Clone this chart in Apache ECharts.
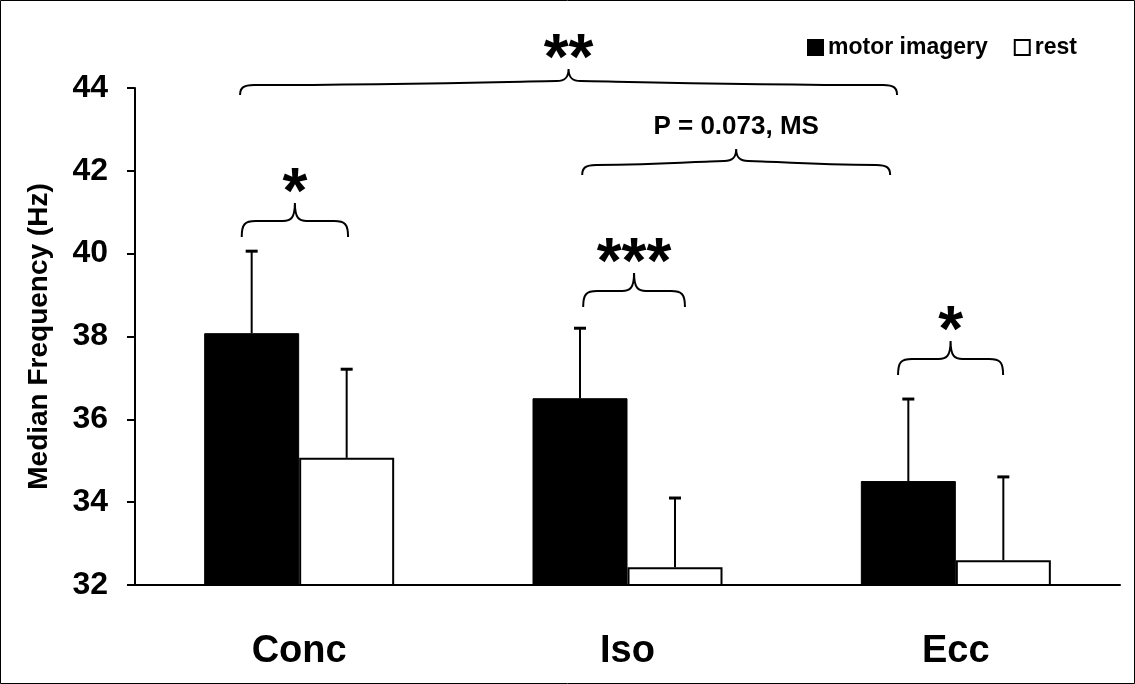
<!DOCTYPE html>
<html>
<head>
<meta charset="utf-8">
<script src="https://cdn.jsdelivr.net/npm/echarts@6/dist/echarts.min.js"></script>
<style>
  html, body { margin: 0; padding: 0; background: #fff; }
  #chart { width: 1135px; height: 684px; }
</style>
</head>
<body>
<div id="chart"></div>
<script>
var categories = ['Conc', 'Iso', 'Ecc'];
var motorMean = [38.08, 36.51, 34.51];
var motorSD = [1.98, 1.69, 1.98];
var restMean = [35.07, 32.43, 32.6];
var restSD = [2.14, 1.67, 2.01];

// significance braces: [from, to, bottom of the brace ends]
// x is in category units (Conc spans 0..1, Iso 1..2, Ecc 2..3)
var braceSpans = [
  [0.325, 0.649, 40.40],
  [1.365, 1.675, 38.71],
  [2.324, 2.644, 37.07],
  [1.362, 2.300, 41.90],
  [0.320, 2.321, 43.83]
];
var braceLabels = ['*', '***', '*', 'P = 0.073, MS', '**'];

var FONT = '"Liberation Sans", Arial, sans-serif';
var BAR_W = 95;

var chart = echarts.init(document.getElementById('chart'));

function errorRender(side) {
  return function (params, api) {
    var cat = api.value(0);
    var mean = api.value(1);
    var sd = api.value(2);
    var base = api.coord([cat, mean]);
    var top = api.coord([cat, mean + sd]);
    var x = base[0] + side * BAR_W / 2;
    return {
      type: 'group',
      children: [
        { type: 'line', shape: { x1: x, y1: base[1], x2: x, y2: top[1] },
          style: { stroke: '#000', lineWidth: 2 } },
        { type: 'line', shape: { x1: x - 6, y1: top[1], x2: x + 6, y2: top[1] },
          style: { stroke: '#000', lineWidth: 3 } }
      ]
    };
  };
}

function braceRender(params, api) {
  var a = api.coord([api.value(0), api.value(2)]);
  var b = api.coord([api.value(1), api.value(2)]);
  var x0 = a[0], x1 = b[0], yb = a[1];
  var cx = (x0 + x1) / 2;
  var wide = (x1 - x0) > 200;
  var drop = wide ? 10 : 16;   // end hook height
  var sag = wide ? 4 : 0;      // flat part rises a little toward the tip on wide braces
  var rise = wide ? 12 : 18;   // tip height above the flat part
  var yf = yb - drop;
  var yc = yf - sag;
  var yt = yc - rise;
  var d = [
    'M', x0, yb,
    'C', x0, yf + 3, x0 + 3, yf, x0 + 14, yf,
    'C', x0 + (cx - x0) * 0.5, yf, cx - 30, yc, cx - 12, yc,
    'C', cx - 4, yc, cx, yc - 3, cx, yt,
    'C', cx, yc - 3, cx + 4, yc, cx + 12, yc,
    'C', cx + 30, yc, x1 - (x1 - cx) * 0.5, yf, x1 - 14, yf,
    'C', x1 - 3, yf, x1, yf + 3, x1, yb
  ].join(' ');
  var label = braceLabels[params.dataIndex];
  var star = label.charAt(0) === '*';
  return {
    type: 'group',
    children: [
      { type: 'path', shape: { pathData: d },
        style: { fill: 'none', stroke: '#000', lineWidth: 2 } },
      { type: 'text', x: cx, y: star ? yt - 8 : yt - 22,
        style: {
          text: label,
          fill: '#000',
          font: star ? 'bold 64px ' + FONT : 'bold 26px ' + FONT,
          align: 'center',
          verticalAlign: 'middle'
        } }
    ]
  };
}

var option = {
  animation: false,
  backgroundColor: '#fff',
  graphic: [{
    type: 'rect',
    shape: { x: 0.5, y: 0.5, width: 1134, height: 683 },
    style: { fill: 'none', stroke: '#000', lineWidth: 1 },
    silent: true
  }],
  legend: {
    data: ['motor imagery', 'rest'],
    left: 802,
    top: 31,
    icon: 'rect',
    itemWidth: 15,
    itemHeight: 15,
    itemGap: 26,
    textStyle: { fontFamily: FONT, fontWeight: 'bold', fontSize: 23, color: '#000' }
  },
  grid: { left: 135, right: 15, top: 88, bottom: 99 },
  xAxis: [{
    type: 'category',
    data: categories,
    axisLine: { onZero: false, lineStyle: { color: '#000', width: 2 } },
    axisTick: { length: 12, lineStyle: { color: '#000', width: 2 } },
    axisLabel: { margin: 48, color: '#000', fontFamily: FONT, fontWeight: 'bold', fontSize: 38 }
  }, {
    type: 'value',
    min: 0,
    max: 3,
    show: false
  }],
  yAxis: {
    type: 'value',
    min: 32,
    max: 44,
    interval: 2,
    name: 'Median Frequency (Hz)',
    nameLocation: 'middle',
    nameGap: 82,
    nameTextStyle: { color: '#000', fontFamily: FONT, fontWeight: 'bold', fontSize: 28 },
    axisLine: { show: true, lineStyle: { color: '#000', width: 2 } },
    axisTick: { show: true, length: 8, lineStyle: { color: '#000', width: 2 } },
    axisLabel: { margin: 27, color: '#000', fontFamily: FONT, fontWeight: 'bold', fontSize: 32 },
    splitLine: { show: false }
  },
  series: [
    {
      name: 'motor imagery',
      type: 'bar',
      data: motorMean,
      barWidth: BAR_W,
      barGap: '0%',
      itemStyle: { color: '#000', borderColor: '#000', borderWidth: 1 }
    },
    {
      name: 'rest',
      type: 'bar',
      data: restMean,
      barWidth: BAR_W,
      barGap: '0%',
      itemStyle: { color: '#fff', borderColor: '#000', borderWidth: 2 }
    },
    {
      name: 'motor sd',
      type: 'custom',
      clip: false,
      z: 3,
      renderItem: errorRender(-1),
      encode: { x: 0, y: 1 },
      data: motorMean.map(function (m, i) { return [i, m, motorSD[i]]; })
    },
    {
      name: 'rest sd',
      type: 'custom',
      clip: false,
      z: 3,
      renderItem: errorRender(1),
      encode: { x: 0, y: 1 },
      data: restMean.map(function (m, i) { return [i, m, restSD[i]]; })
    },
    {
      name: 'braces',
      type: 'custom',
      xAxisIndex: 1,
      clip: false,
      z: 3,
      renderItem: braceRender,
      encode: { x: [0, 1], y: 2 },
      data: braceSpans
    }
  ]
};

chart.setOption(option);
</script>
</body>
</html>
